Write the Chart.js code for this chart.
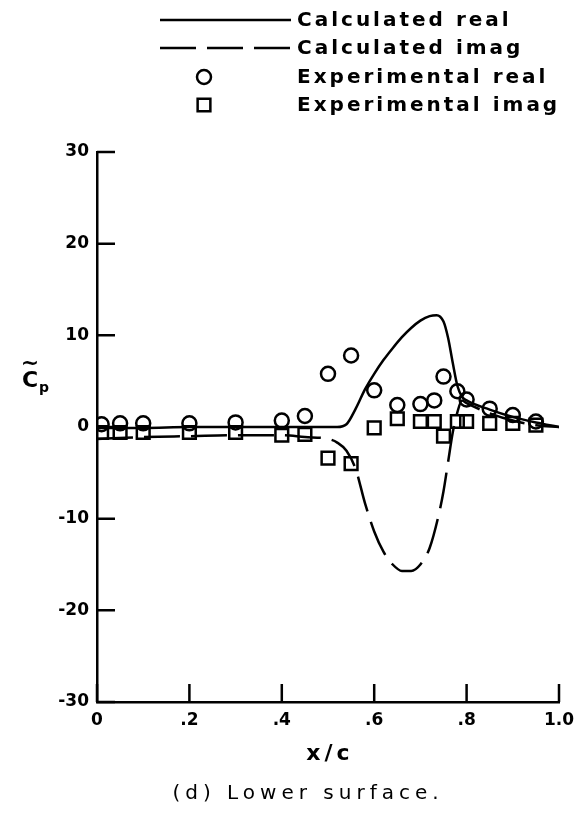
<!DOCTYPE html>
<html>
<head>
<meta charset="utf-8">
<script src="https://cdn.jsdelivr.net/npm/chart.js@4.4.1/dist/chart.umd.min.js"></script>
<style>
    body { margin: 0; background: #fff; }
    canvas { display: block; }
</style>
</head>
<body>
<canvas id="grafico" width="587" height="817"></canvas>
<script>
///////////////////////////////////////////////// Dati //////////////////////////////////////////////
const xCalcReale = [0, 0.1, 0.2, 0.3, 0.4, 0.5, 0.52, 0.54, 0.56, 0.58, 0.6, 0.62, 0.64, 0.66, 0.68, 0.7, 0.72, 0.735, 0.75, 0.76, 0.77, 0.78, 0.79, 0.8, 0.85, 0.9, 0.95, 1.0];
const yCalcReale = [-0.1, -0.1, 0, 0, 0, 0, 0, 0.3, 2.0, 4.1, 5.8, 7.3, 8.6, 9.8, 10.8, 11.6, 12.1, 12.2, 11.5, 9.7, 7.0, 4.5, 3.3, 2.9, 1.9, 1.1, 0.5, 0];

const xCalcImmag = [0, 0.1, 0.2, 0.3, 0.4, 0.45, 0.5, 0.52, 0.54, 0.56, 0.58, 0.6, 0.62, 0.64, 0.66, 0.68, 0.7, 0.72, 0.74, 0.75, 0.76, 0.77, 0.78, 0.79, 0.8, 0.85, 0.9, 0.95, 1.0];
const yCalcImmag = [-1.3, -1.1, -1.0, -0.9, -0.9, -1.1, -1.3, -1.7, -2.6, -4.6, -8.3, -11.4, -13.6, -15.0, -15.7, -15.7, -15.0, -13.2, -9.5, -7.0, -3.8, -0.6, 1.6, 2.9, 2.6, 1.5, 0.7, 0.2, 0];

const xSperReale = [0.01, 0.05, 0.1, 0.2, 0.3, 0.4, 0.45, 0.5, 0.55, 0.6, 0.65, 0.7, 0.73, 0.75, 0.78, 0.8, 0.85, 0.9, 0.95];
const ySperReale = [0.3, 0.4, 0.4, 0.4, 0.5, 0.7, 1.2, 5.8, 7.8, 4.0, 2.4, 2.5, 2.9, 5.5, 3.9, 3.0, 2.0, 1.3, 0.6];

const xSperImmag = [0.01, 0.05, 0.1, 0.2, 0.3, 0.4, 0.45, 0.5, 0.55, 0.6, 0.65, 0.7, 0.73, 0.75, 0.78, 0.8, 0.85, 0.9, 0.95];
const ySperImmag = [-0.6, -0.6, -0.6, -0.6, -0.6, -0.9, -0.8, -3.4, -4.0, -0.1, 0.9, 0.6, 0.6, -1.0, 0.6, 0.6, 0.4, 0.4, 0.2];

const tickX = [0, 0.2, 0.4, 0.6, 0.8, 1.0];
const etichetteX = ["0", ".2", ".4", ".6", ".8", "1.0"];
const tickY = [-30, -20, -10, 0, 10, 20, 30];
const etichetteY = ["-30", "-20", "-10", "0", "10", "20", "30"];

const nomiSerie = ["Calculated real", "Calculated imag", "Experimental real", "Experimental imag"];

///////////////////////////////////////////////// Metodi di supporto /////////////////////////////////////////////////
const unisci = function (xs, ys) {
    return xs.map((x, i) => ({ x: x, y: ys[i] }));
};

const fontTick = { family: "DejaVu Sans", weight: "bold", size: 17 };

// tacche rivolte verso l'interno, come nella figura originale
const tacchePlugin = {
    id: "tacche",
    afterDraw(chart) {
        const ctx = chart.ctx;
        const area = chart.chartArea;
        const sx = chart.scales.x;
        const sy = chart.scales.y;
        ctx.save();
        ctx.strokeStyle = "#000";
        ctx.lineWidth = 2.5;
        ctx.beginPath();
        sy.ticks.forEach(t => {
            const py = sy.getPixelForValue(t.value);
            ctx.moveTo(area.left, py);
            ctx.lineTo(area.left + 18, py);
        });
        sx.ticks.forEach(t => {
            const px = sx.getPixelForValue(t.value);
            ctx.moveTo(px, area.bottom);
            ctx.lineTo(px, area.bottom - 18);
        });
        ctx.stroke();
        ctx.restore();
    }
};

// legenda, titoli degli assi e didascalia
const testiPlugin = {
    id: "testi",
    afterDraw(chart) {
        const ctx = chart.ctx;
        const area = chart.chartArea;
        const ds = chart.data.datasets;
        ctx.save();
        ctx.strokeStyle = "#000";
        ctx.textBaseline = "middle";

        // legenda
        const righe = [20, 48, 77, 105];
        ctx.font = "bold 20px 'DejaVu Sans'";
        ctx.letterSpacing = "3px";
        ds.forEach((d, i) => {
            const y = righe[i];
            ctx.lineWidth = 2.5;
            if (d.showLine) {
                ctx.setLineDash(d.borderDash || []);
                ctx.beginPath();
                ctx.moveTo(160, y);
                ctx.lineTo(291, y);
                ctx.stroke();
                ctx.setLineDash([]);
            } else {
                ctx.fillStyle = "rgba(0,0,0,0)";
                Chart.helpers.drawPoint(ctx, {
                    pointStyle: d.pointStyle,
                    radius: d.pointRadius,
                    borderWidth: 2.5,
                    rotation: 0
                }, 204, y);
            }
            ctx.fillStyle = "#000";
            ctx.textAlign = "left";
            ctx.fillText(d.label, 297, y + 1);
        });

        // titolo asse x
        ctx.fillStyle = "#000";
        ctx.textAlign = "center";
        ctx.font = "bold 22px 'DejaVu Sans'";
        ctx.letterSpacing = "4px";
        ctx.fillText("x/c", (area.left + area.right) / 2 + 2, 754);

        // didascalia
        ctx.font = "20px 'DejaVu Sans'";
        ctx.letterSpacing = "5px";
        ctx.fillText("(d) Lower surface.", (area.left + area.right) / 2 - 20, 794);

        // titolo asse y: C con tilde e pedice p
        ctx.letterSpacing = "0px";
        ctx.font = "bold 22px 'DejaVu Sans'";
        ctx.fillText("C", 30, 381);
        ctx.fillText("~", 30, 364);
        ctx.font = "bold 14px 'DejaVu Sans'";
        ctx.fillText("p", 44, 388);
        ctx.restore();
    }
};

///////////////////////////////////////////////// Grafico /////////////////////////////////////////////////
const canvas = document.getElementById("grafico");

const grafico = new Chart(canvas, {
    type: "scatter",
    data: {
        datasets: [
            {
                label: nomiSerie[0],
                data: unisci(xCalcReale, yCalcReale),
                showLine: true,
                borderColor: "#000",
                borderWidth: 2.5,
                pointRadius: 0,
                cubicInterpolationMode: "monotone"
            },
            {
                label: nomiSerie[1],
                data: unisci(xCalcImmag, yCalcImmag),
                showLine: true,
                borderColor: "#000",
                borderWidth: 2.5,
                borderDash: [36, 11],
                pointRadius: 0,
                cubicInterpolationMode: "monotone"
            },
            {
                label: nomiSerie[2],
                data: unisci(xSperReale, ySperReale),
                showLine: false,
                pointStyle: "circle",
                pointRadius: 7,
                pointBorderWidth: 2.5,
                borderColor: "#000",
                backgroundColor: "rgba(0,0,0,0)"
            },
            {
                label: nomiSerie[3],
                data: unisci(xSperImmag, ySperImmag),
                showLine: false,
                pointStyle: "rect",
                pointRadius: 9,
                pointBorderWidth: 2.5,
                borderColor: "#000",
                backgroundColor: "rgba(0,0,0,0)"
            }
        ]
    },
    options: {
        responsive: false,
        animation: false,
        layout: { padding: { top: 152, right: 28, bottom: 0, left: 0 } },
        plugins: {
            legend: { display: false },
            tooltip: { enabled: false },
            title: { display: false }
        },
        scales: {
            x: {
                type: "linear",
                min: 0,
                max: 1,
                afterBuildTicks(scala) { scala.ticks = tickX.map(v => ({ value: v })); },
                afterFit(scala) { scala.height = 115; },
                grid: { display: false, drawTicks: false },
                border: { display: true, color: "#000", width: 2.5 },
                ticks: {
                    color: "#000",
                    font: fontTick,
                    padding: 8,
                    maxRotation: 0,
                    autoSkip: false,
                    callback: (v, i) => etichetteX[i]
                }
            },
            y: {
                type: "linear",
                min: -30,
                max: 30,
                afterBuildTicks(scala) { scala.ticks = tickY.map(v => ({ value: v })); },
                afterFit(scala) { scala.width = 97; },
                grid: { display: false, drawTicks: false },
                border: { display: true, color: "#000", width: 2.5 },
                ticks: {
                    color: "#000",
                    font: fontTick,
                    padding: 8,
                    autoSkip: false,
                    callback: (v, i) => etichetteY[i]
                }
            }
        }
    },
    plugins: [tacchePlugin, testiPlugin]
});
</script>
</body>
</html>
